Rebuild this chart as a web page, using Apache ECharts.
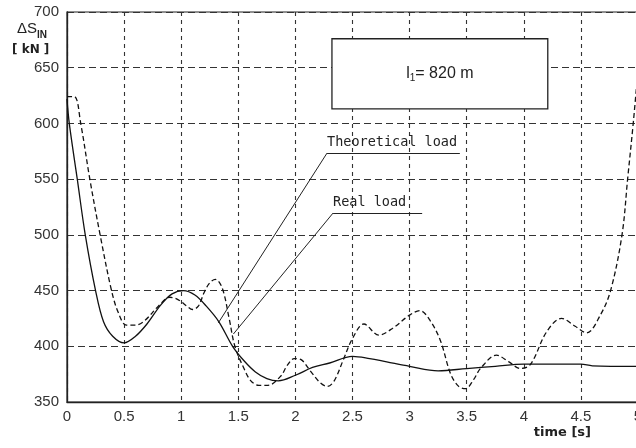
<!DOCTYPE html>
<html>

<head>
    <meta charset="utf-8" />
    <title>Load vs time</title>
    <script src="https://cdn.jsdelivr.net/npm/echarts@6.0.0/dist/echarts.min.js"></script>
    <style>
        html, body { margin: 0; padding: 0; background: #fff; }
        #main { width: 636px; height: 448px; }
    </style>
</head>

<body>
    <div id="main"></div>
    <script type="text/javascript">
        // theoretical load (solid)
        var theoTime = [0, 0.02, 0.09, 0.16, 0.25, 0.32, 0.4, 0.5, 0.6, 0.7, 0.82, 0.92, 1.02, 1.12, 1.22, 1.33, 1.45, 1.55, 1.65, 1.75, 1.85, 2.0, 2.15, 2.3, 2.5, 2.65, 2.8, 3.0, 3.25, 3.5, 3.75, 4.0, 4.5, 4.6, 5.0];
        var theoLoad = [622, 600, 550, 500, 450, 422, 409, 403, 409, 420, 437, 447, 450, 446, 436, 422, 400, 387, 377, 371, 369, 374, 381, 385, 391, 389, 386, 382, 378, 380, 382, 384, 384, 382.5, 382];
        // real load (dashed)
        var realTime = [0, 0.065, 0.12, 0.2, 0.29, 0.39, 0.45, 0.52, 0.6, 0.68, 0.8, 0.9, 0.95, 1.0, 1.05, 1.1, 1.15, 1.2, 1.25, 1.3, 1.36, 1.42, 1.47, 1.55, 1.61, 1.68, 1.76, 1.87, 1.93, 1.99, 2.05, 2.13, 2.22, 2.28, 2.34, 2.42, 2.5, 2.6, 2.73, 2.85, 3.0, 3.09, 3.18, 3.27, 3.36, 3.43, 3.49, 3.56, 3.62, 3.76, 3.87, 3.97, 4.06, 4.2, 4.33, 4.45, 4.55, 4.67, 4.76, 4.86, 4.91, 4.96, 5.0];
        var realLoad = [624, 624, 600, 550, 500, 450, 430, 419, 419, 423, 436, 444, 443, 440, 436, 433, 436, 448, 457, 460, 452, 425, 400, 380, 369, 365, 365, 373, 383, 389, 388, 378, 367, 364, 369, 388, 407, 420, 410, 416, 428, 432, 423, 405, 375, 364, 362, 370, 380, 392, 386, 380, 384, 413, 425, 418, 412, 428, 450, 500, 551, 602, 648];

        var yTicks = [350, 400, 450, 500, 550, 600, 650, 700];
        var xTicks = [0, 0.5, 1, 1.5, 2, 2.5, 3, 3.5, 4, 4.5, 5];

        // annotations (data space)
        var boxCorners = [[2.32, 676], [4.21, 613]];
        var theoLabel = { text: 'Theoretical load', from: [2.277, 573.4], to: [3.44, 573.4], tip: [1.325, 421] };
        var realLabel = { text: 'Real load', from: [2.33, 519.6], to: [3.11, 519.6], tip: [1.457, 411] };

        function pairs(xs, ys) {
            return xs.map(function (x, i) { return [x, ys[i]]; });
        }

        function tagLines(t) {
            return [
                [{ coord: t.tip }, { coord: t.from }],
                [{
                    coord: t.from,
                    label: {
                        show: true,
                        position: 'insideStartTop',
                        distance: [0, 4],
                        formatter: t.text,
                        color: '#222',
                        fontFamily: 'DejaVu Sans Mono',
                        fontSize: 13.5,
                        padding: 0
                    }
                }, { coord: t.to }]
            ];
        }

        var myChart = echarts.init(document.getElementById('main'));

        myChart.setOption({
            animation: false,
            backgroundColor: '#fff',
            title: [{
                left: 7,
                top: 13,
                text: '{d|ΔS}{s|lN}\n{u|[ kN ]}',
                textStyle: {
                    rich: {
                        d: { fontFamily: 'Liberation Sans', fontSize: 15, fontWeight: 'normal', color: '#222', lineHeight: 22, padding: [0, 0, 0, 5] },
                        s: { fontFamily: 'Liberation Sans', fontSize: 10, fontWeight: 'bold', color: '#222', verticalAlign: 'bottom', padding: [6, 0, 0, 0] },
                        u: { fontFamily: 'DejaVu Sans', fontSize: 12, fontWeight: 'bold', color: '#222', lineHeight: 20 }
                    }
                }
            }, {
                right: 40,
                bottom: 4,
                text: 'time [s]',
                textStyle: { fontFamily: 'DejaVu Sans', fontSize: 13, fontWeight: 'bold', color: '#222' }
            }],
            grid: {
                left: 67,
                right: -2,
                top: 12,
                bottom: 46,
                outerBoundsMode: 'none',
                show: true,
                borderColor: '#222',
                borderWidth: 1.2
            },
            xAxis: {
                type: 'value',
                min: xTicks[0],
                max: xTicks[xTicks.length - 1],
                interval: 0.5,
                axisLine: { lineStyle: { color: '#222', width: 1.3 } },
                axisTick: { show: false },
                axisLabel: { color: '#333', fontFamily: 'Liberation Sans', fontSize: 15, margin: 7 },
                splitLine: { lineStyle: { color: '#333', width: 1.1, type: [4, 4] } }
            },
            yAxis: {
                type: 'value',
                min: yTicks[0],
                max: yTicks[yTicks.length - 1],
                interval: 50,
                axisLine: { show: true, lineStyle: { color: '#222', width: 1.3 } },
                axisTick: { show: false },
                axisLabel: { color: '#333', fontFamily: 'Liberation Sans', fontSize: 15, margin: 8 },
                splitLine: { lineStyle: { color: '#333', width: 1.1, type: [7, 4] } }
            },
            series: [
                {
                    name: 'Theoretical load',
                    type: 'line',
                    data: pairs(theoTime, theoLoad),
                    smooth: 0.35,
                    showSymbol: false,
                    lineStyle: { color: '#111', width: 1.3 },
                    markArea: {
                        silent: true,
                        itemStyle: { color: '#fff', borderColor: '#222', borderWidth: 1.3, opacity: 1 },
                        label: {
                            show: true,
                            position: 'inside',
                            formatter: '{a|l}{s|1}{a|= 820 m}',
                            rich: {
                                a: { fontFamily: 'Liberation Sans', fontSize: 16, color: '#222' },
                                s: { fontFamily: 'Liberation Sans', fontSize: 10, color: '#222', verticalAlign: 'bottom', padding: [8, 0, 0, 0] }
                            }
                        },
                        data: [[{ coord: boxCorners[0] }, { coord: boxCorners[1] }]]
                    },
                    markLine: {
                        silent: true,
                        symbol: ['none', 'none'],
                        lineStyle: { color: '#222', width: 1, type: 'solid' },
                        label: { show: false },
                        data: tagLines(theoLabel).concat(tagLines(realLabel))
                    }
                },
                {
                    name: 'Real load',
                    type: 'line',
                    data: pairs(realTime, realLoad),
                    smooth: 0.35,
                    showSymbol: false,
                    lineStyle: { color: '#111', width: 1.3, type: [5, 3] }
                }
            ]
        });
    </script>
</body>

</html>
